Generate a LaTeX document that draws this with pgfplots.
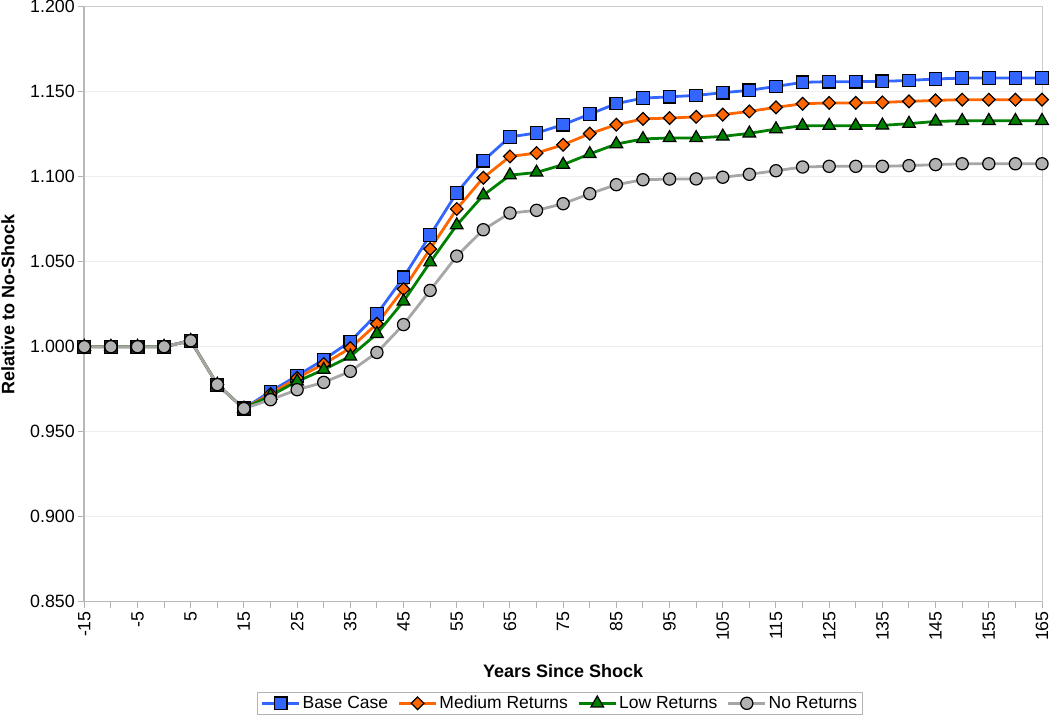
\documentclass[border=0pt]{standalone}
\usepackage{fontspec}
\setmainfont{Liberation Sans}
\usepackage{pgfplots}
\usepackage{pgfplotstable}
\pgfplotsset{compat=1.18}
\definecolor{cblue}{HTML}{3366FF}
\definecolor{corange}{HTML}{FF6600}
\definecolor{cgreen}{HTML}{008000}
\definecolor{cgrayline}{HTML}{A6A6A6}
\definecolor{cgrayfill}{HTML}{B2B2B2}

\pgfplotstableread{
x base med low no
-15 1.0000 1.0000 1.0000 1.0000
-10 1.0000 1.0000 1.0000 1.0000
-5 1.0000 1.0000 1.0000 1.0000
0 1.0000 1.0000 1.0000 1.0000
5 1.0035 1.0035 1.0035 1.0035
10 0.9777 0.9777 0.9777 0.9777
15 0.9636 0.9636 0.9636 0.9636
20 0.9737 0.9722 0.9712 0.9688
25 0.9829 0.9816 0.9796 0.9747
30 0.9924 0.9898 0.9865 0.9790
35 1.0031 0.9992 0.9943 0.9855
40 1.0192 1.0135 1.0076 0.9966
45 1.0408 1.0339 1.0267 1.0130
50 1.0656 1.0575 1.0497 1.0331
55 1.0905 1.0810 1.0715 1.0533
60 1.1094 1.0994 1.0891 1.0688
65 1.1234 1.1119 1.1009 1.0786
70 1.1257 1.1139 1.1025 1.0802
75 1.1306 1.1188 1.1071 1.0841
80 1.1368 1.1253 1.1134 1.0900
85 1.1430 1.1306 1.1192 1.0953
90 1.1462 1.1340 1.1222 1.0982
95 1.1470 1.1345 1.1228 1.0986
100 1.1478 1.1352 1.1228 1.0987
105 1.1494 1.1365 1.1237 1.0997
110 1.1508 1.1384 1.1255 1.1014
115 1.1531 1.1408 1.1280 1.1035
120 1.1555 1.1429 1.1300 1.1057
125 1.1559 1.1434 1.1300 1.1061
130 1.1559 1.1434 1.1300 1.1061
135 1.1561 1.1437 1.1302 1.1061
140 1.1566 1.1443 1.1312 1.1065
145 1.1575 1.1449 1.1325 1.1071
150 1.1580 1.1453 1.1329 1.1076
155 1.1580 1.1453 1.1329 1.1076
160 1.1580 1.1453 1.1329 1.1076
165 1.1580 1.1453 1.1329 1.1076
}\data

\begin{document}
\begin{tikzpicture}
\begin{axis}[
  scale only axis, width=957.7pt, height=595pt,
  xmin=-15, xmax=165, ymin=0.85, ymax=1.2,
  axis lines=left,
  axis line style={-, draw=black!28, line width=1.6pt},
  xtick={-15,-5,...,165}, minor xtick={-10,0,...,160},
  ytick={0.85,0.90,0.95,1.00,1.05,1.10,1.15,1.20},
  tick align=outside, major tick length=6pt, minor tick length=6pt,
  tick style={draw=black!30, line width=1pt},
  ymajorgrids, grid style={draw=black!7, line width=0.8pt},
  /pgf/number format/assume math mode=true,
  tick label style={font=\fontsize{17.8}{21}\selectfont, text=black},
  yticklabel style={/pgf/number format/.cd, fixed, fixed zerofill, precision=3},
  xticklabel style={rotate=90, anchor=east},
  xlabel={Years Since Shock},
  ylabel={Relative to No-Shock},
  label style={font=\bfseries\fontsize{18}{21}\selectfont},
  xlabel style={at={(axis description cs:0.5,-0.1282)}, anchor=base},
  ylabel style={at={(axis description cs:-0.0797,0.5)}, anchor=center},
  clip=false,
  legend columns=4,
  legend style={at={(axis description cs:0.4967,-0.1513)}, anchor=north,
    draw=black!30, line width=1pt, font=\fontsize{17.5}{20}\selectfont,
    inner xsep=3pt, inner ysep=2pt,
    nodes={inner xsep=2pt},
    /tikz/every even column/.append style={column sep=7.5pt}},
  legend image code/.code={\draw[mark repeat=2, mark phase=2] plot coordinates {(0pt,0pt) (18.5pt,0pt) (37pt,0pt)};},
]
\draw[black!20, line width=1pt] (rel axis cs:0,1) -- (rel axis cs:1,1) -- (rel axis cs:1,0);
\coordinate (O) at (rel axis cs:0,0);

\addplot[cblue, line width=2.8pt, mark=square*, mark size=6.3pt,
  mark options={solid, fill=cblue, draw=black, line width=1.2pt}]
  table[x=x, y=base]{\data};
\addlegendentry{Base Case}

\addplot[corange, line width=2.8pt, mark=square*, mark size=4.5pt,
  mark options={solid, rotate=45, fill=corange, draw=black, line width=1.2pt}]
  table[x=x, y=med]{\data};
\addlegendentry{Medium Returns}

\addplot[cgreen, line width=2.8pt, mark=triangle*, mark size=7.3pt,
  mark options={solid, fill=cgreen, draw=black, line width=1.2pt}]
  table[x=x, y=low]{\data};
\addlegendentry{Low Returns}

\addplot[forget plot, only marks, restrict x to domain=-15:15, mark=square*, mark size=6.5pt,
  mark options={solid, fill=black!85, draw=black, line width=1.2pt}]
  table[x=x, y=no]{\data};

\addplot[cgrayline, line width=2.8pt, mark=*, mark size=6.1pt,
  mark options={solid, fill=cgrayfill, draw=black, line width=1.2pt}]
  table[x=x, y=no]{\data};
\addlegendentry{No Returns}
\end{axis}
\pgfresetboundingbox
\path (O) ++(-84.3pt,-117.3pt) rectangle ++(1050pt,719pt);
\end{tikzpicture}
\end{document}
